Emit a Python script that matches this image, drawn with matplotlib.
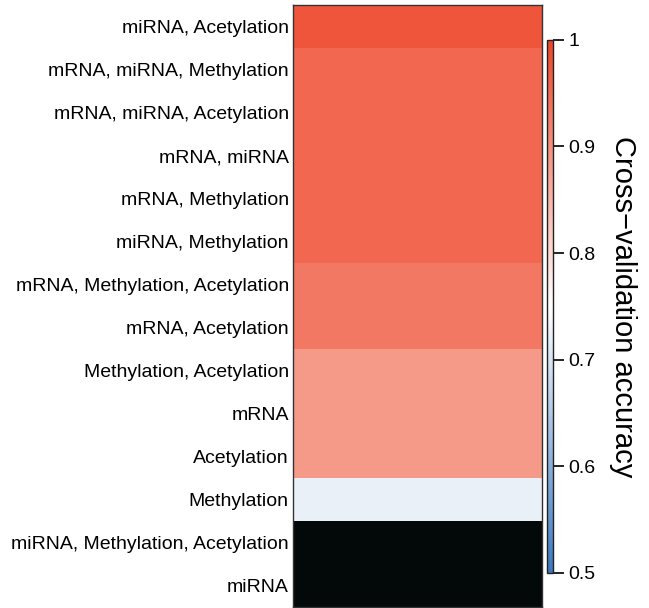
import numpy as np
import matplotlib

matplotlib.use("Agg")
import matplotlib.pyplot as plt
from matplotlib.colors import LinearSegmentedColormap, Normalize
from matplotlib.ticker import FuncFormatter

# rows from top to bottom
combinations = [
    "miRNA, Acetylation",
    "mRNA, miRNA, Methylation",
    "mRNA, miRNA, Acetylation",
    "mRNA, miRNA",
    "mRNA, Methylation",
    "miRNA, Methylation",
    "mRNA, Methylation, Acetylation",
    "mRNA, Acetylation",
    "Methylation, Acetylation",
    "mRNA",
    "Acetylation",
    "Methylation",
    "miRNA, Methylation, Acetylation",
    "miRNA",
]
accuracy = [0.975, 0.953, 0.953, 0.953, 0.953, 0.953, 0.928, 0.928,
            0.885, 0.885, 0.885, 0.723, np.nan, np.nan]
cbar_ticks = [0.5, 0.6, 0.7, 0.8, 0.9, 1.0]

plt.rcParams.update({
    "font.family": ["Liberation Sans", "DejaVu Sans"],
    "font.size": 14,
})

cmap = LinearSegmentedColormap.from_list(
    "cv", [(0.0, "#3b78c0"), (0.5, "#ffffff"), (1.0, "#ee4427")]
)
cmap.set_bad("#030808")
norm = Normalize(vmin=0.5, vmax=1.0)

fig = plt.figure(figsize=(6.49, 6.08), dpi=100)
ax = fig.add_axes([0.4515, 0.0016, 0.3837, 0.990])
values = np.ma.masked_invalid(np.asarray(accuracy, dtype=float)).reshape(-1, 1)
im = ax.imshow(values, cmap=cmap, norm=norm, aspect="auto", interpolation="nearest")
ax.set_xticks([])
ax.set_yticks(np.arange(len(combinations)))
ax.set_yticklabels(combinations, fontsize=14)
ax.tick_params(axis="y", length=0, pad=3)
for side, spine in ax.spines.items():
    spine.set_color("#333333")
    spine.set_linewidth(1.0)

cax = fig.add_axes([0.843, 0.0576, 0.0092, 0.877])
cb = fig.colorbar(im, cax=cax, ticks=cbar_ticks)
cb.outline.set_edgecolor("#222222")
cb.outline.set_linewidth(1.0)
cax.tick_params(length=8, width=1.2, labelsize=14, pad=3)
cax.yaxis.set_major_formatter(FuncFormatter(lambda v, _: f"{v:g}"))
cb.set_label("Cross\u2212validation accuracy", rotation=270, fontsize=21, labelpad=30)

fig.savefig("out.png", dpi=100)
